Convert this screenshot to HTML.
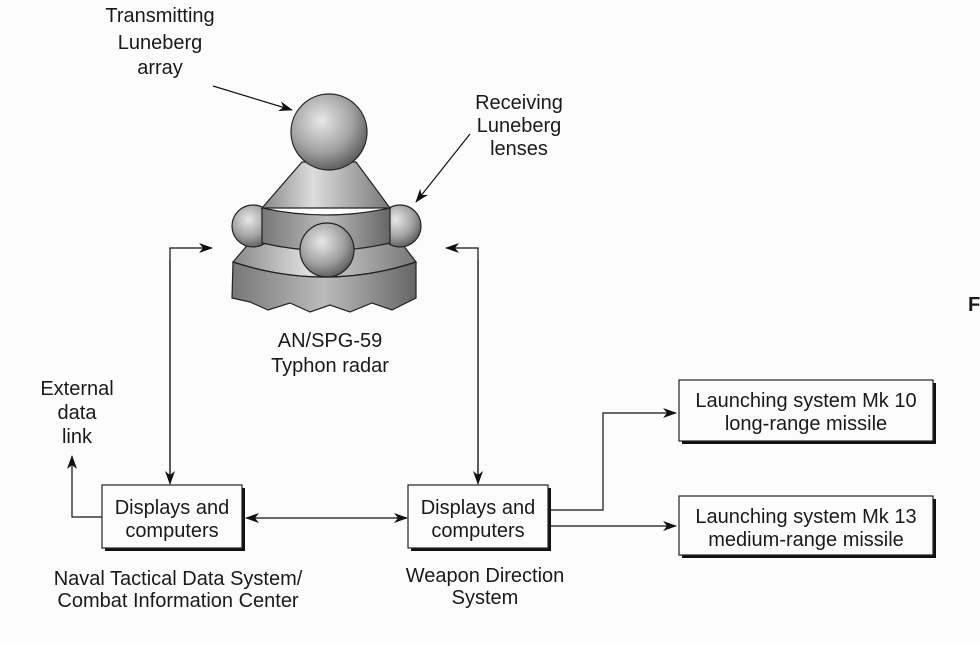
<!DOCTYPE html>
<html><head><style>
body{margin:0;background:#fcfcfd;}
svg text{font-family:"Liberation Sans",sans-serif;font-size:20px;fill:#1a1a1a;}
</style></head><body>
<svg width="980" height="640" viewBox="0 0 980 640" xmlns="http://www.w3.org/2000/svg">
<defs>
<marker id="a" markerWidth="14" markerHeight="10" refX="13" refY="5" orient="auto" markerUnits="userSpaceOnUse"><path d="M0,0 L14,5 L0,10 L4,5 Z" fill="#111"/></marker>
<radialGradient id="sp" cx="0.4" cy="0.35" r="0.7"><stop offset="0" stop-color="#e8e8e8"/><stop offset="0.6" stop-color="#a0a0a0"/><stop offset="1" stop-color="#555"/></radialGradient>
<linearGradient id="cone" x1="0" x2="1"><stop offset="0" stop-color="#888"/><stop offset="0.4" stop-color="#ddd"/><stop offset="1" stop-color="#777"/></linearGradient>
<linearGradient id="band" x1="0" x2="1"><stop offset="0" stop-color="#777"/><stop offset="0.5" stop-color="#bbb"/><stop offset="1" stop-color="#666"/></linearGradient>
</defs>
<g stroke="#222" stroke-width="1.2">
<path d="M233,262 L232,298 L250,302 L268,310 L290,303 L310,312 L330,305 L350,312 L372,303 L392,310 L416,298 L416,262 Z" fill="url(#band)"/>
<path d="M233,262 L262,228 L390,228 L416,262 Q325,292 233,262 Z" fill="url(#cone)"/>
<path d="M233,262 Q325,292 416,262" fill="none"/>
<circle cx="253" cy="226" r="21" fill="url(#sp)"/>
<circle cx="400" cy="226" r="21" fill="url(#sp)"/>
<path d="M302,162 L356,162 L390,208 L262,208 Z" fill="url(#cone)"/>
<path d="M262,208 Q326,222 390,208 L390,243 Q326,258 262,243 Z" fill="url(#band)"/>
<circle cx="329" cy="132" r="38" fill="url(#sp)"/>
<circle cx="327" cy="250" r="27" fill="url(#sp)"/>
</g>
<g stroke="#111" stroke-width="1.2" fill="none">
<line x1="213" y1="86" x2="292" y2="110" marker-end="url(#a)"/>
<line x1="470" y1="134" x2="416" y2="202" marker-end="url(#a)"/>
<polyline points="170,483 170,248 212,248" marker-end="url(#a)"/>
<line x1="170" y1="260" x2="170" y2="484" marker-end="url(#a)"/>
<polyline points="478,483 478,248 446,248" marker-end="url(#a)"/>
<line x1="478" y1="260" x2="478" y2="484" marker-end="url(#a)"/>
<polyline points="102,517 72,517 72,456" marker-end="url(#a)"/>
<line x1="300" y1="518" x2="246" y2="518" marker-end="url(#a)"/>
<line x1="300" y1="518" x2="407" y2="518" marker-end="url(#a)"/>
<polyline points="549,510 603,510 603,413 676,413" marker-end="url(#a)"/>
<line x1="549" y1="526" x2="676" y2="526" marker-end="url(#a)"/>
</g>
<g fill="#111"><rect x="105" y="488" width="140" height="63"/><rect x="411" y="488" width="140" height="63"/><rect x="682" y="383" width="254" height="61"/><rect x="682" y="499" width="254" height="59"/></g>
<g fill="#fcfcfd" stroke="#222" stroke-width="1.2"><rect x="102" y="485" width="140" height="63"/><rect x="408" y="485" width="140" height="63"/><rect x="679" y="380" width="254" height="61"/><rect x="679" y="496" width="254" height="59"/></g>
<g text-anchor="middle">
<text x="160" y="22">Transmitting</text><text x="160" y="49">Luneberg</text><text x="160" y="74">array</text>
<text x="519" y="109">Receiving</text><text x="519" y="132">Luneberg</text><text x="519" y="155">lenses</text>
<text x="330" y="347">AN/SPG-59</text><text x="330" y="372">Typhon radar</text>
<text x="77" y="395">External</text><text x="77" y="419">data</text><text x="77" y="443">link</text>
<text x="172" y="514">Displays and</text><text x="172" y="537">computers</text>
<text x="478" y="514">Displays and</text><text x="478" y="537">computers</text>
<text x="806" y="407">Launching system Mk 10</text><text x="806" y="430">long-range missile</text>
<text x="806" y="523">Launching system Mk 13</text><text x="806" y="546">medium-range missile</text>
<text x="178" y="585">Naval Tactical Data System/</text><text x="178" y="607">Combat Information Center</text>
<text x="485" y="582">Weapon Direction</text><text x="485" y="604">System</text>
</g>
<text x="968" y="311" style="font-weight:bold">F</text>
</svg>
</body></html>
